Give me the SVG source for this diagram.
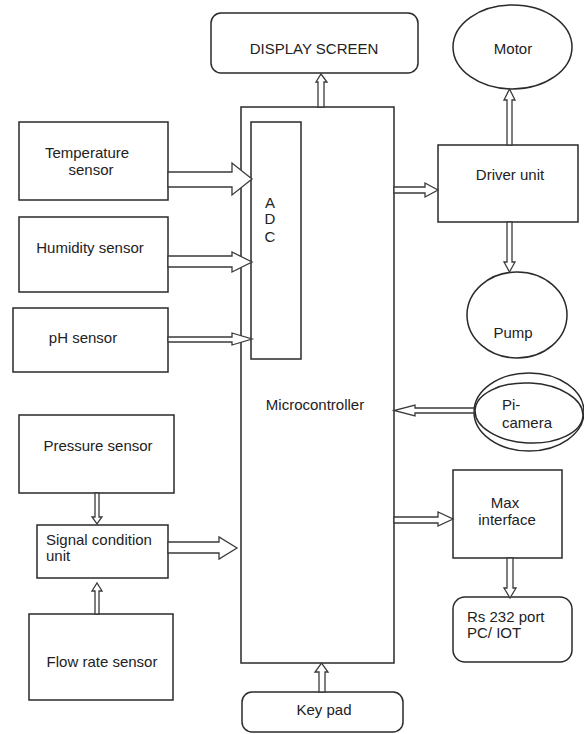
<svg xmlns="http://www.w3.org/2000/svg" width="584" height="734" viewBox="0 0 584 734">
<style>
.b{fill:#fff;stroke:#2a2a2a;stroke-width:1.5}
.a{fill:#fff;stroke:#3a3a3a;stroke-width:1.3;stroke-linejoin:miter}
text{font-family:"Liberation Sans",Arial,sans-serif;font-size:15px;fill:#222}
.c{text-anchor:middle}
</style>
<rect width="584" height="734" fill="#fff"/>
<g id="display"><rect class="b" x="211" y="13" width="207" height="60" rx="10"/><text class="c" x="314" y="54">DISPLAY SCREEN</text></g>
<g id="microcontroller"><rect class="b" x="241" y="107" width="153" height="556"/><text class="c" x="315" y="410">Microcontroller</text></g>
<g id="adc"><rect class="b" x="251" y="122" width="50" height="237"/><text class="c" x="270" y="208">A</text><text class="c" x="270" y="224">D</text><text class="c" x="270" y="242">C</text></g>
<g id="temperature"><rect class="b" x="19" y="122" width="149" height="78"/><text class="c" x="87" y="158">Temperature</text><text class="c" x="91" y="175">sensor</text></g>
<g id="humidity"><rect class="b" x="19" y="217" width="149" height="75"/><text class="c" x="90" y="253">Humidity sensor</text></g>
<g id="ph"><rect class="b" x="13" y="308" width="155" height="64"/><text class="c" x="83" y="343">pH sensor</text></g>
<g id="pressure"><rect class="b" x="19" y="415" width="155" height="78"/><text class="c" x="98" y="451">Pressure sensor</text></g>
<g id="signal"><rect class="b" x="37" y="525" width="131" height="53"/><text x="46" y="545">Signal condition</text><text x="46" y="561">unit</text></g>
<g id="flow"><rect class="b" x="29" y="614" width="144" height="86"/><text class="c" x="102" y="667">Flow rate sensor</text></g>
<g id="keypad"><rect class="b" x="242" y="692" width="161" height="40" rx="10"/><text class="c" x="324" y="715">Key pad</text></g>
<g id="motor"><ellipse class="b" cx="512.5" cy="47" rx="59.5" ry="42"/><text class="c" x="513" y="54">Motor</text></g>
<g id="driver"><rect class="b" x="438" y="145" width="140" height="77"/><text class="c" x="510" y="180">Driver unit</text></g>
<g id="pump"><ellipse class="b" cx="517" cy="315" rx="50" ry="43"/><text class="c" x="513" y="338">Pump</text></g>
<g id="picamera"><ellipse class="b" cx="529" cy="412" rx="55" ry="39"/><ellipse fill="none" stroke="#2a2a2a" stroke-width="1.5" cx="529" cy="413" rx="54" ry="30" transform="rotate(3 529 413)"/><text x="502" y="410">Pi-</text><text x="502" y="428">camera</text></g>
<g id="max"><rect class="b" x="453" y="470" width="109" height="88"/><text class="c" x="505" y="508">Max</text><text class="c" x="507" y="525">interface</text></g>
<g id="rs232"><rect class="b" x="453" y="597" width="119" height="65" rx="12"/><text x="467" y="622">Rs 232 port</text><text x="467" y="638">PC/ IOT</text></g>
<g id="connectors">
<polygon class="a" points="168,172 232,172 232,163 252,179 232,195 232,187 168,187"/>
<polygon class="a" points="168,256 232,256 232,252 252,262 232,272 232,267 168,267"/>
<polygon class="a" points="168,337 232,337 232,333 252,339 232,345 232,342 168,342"/>
<polygon class="a" points="168,542 219,542 219,537 237,548 219,559 219,553 168,553"/>
<polygon class="a" points="318,107 318,82 316,82 321,74 327,82 324,82 324,107"/>
<polygon class="a" points="394,187 425,187 425,183 438,190 425,197 425,193 394,193"/>
<polygon class="a" points="507,145 507,100 504,100 509.5,89 515,100 512,100 512,145"/>
<polygon class="a" points="507,222 507,262 504,262 509.5,272 515,262 512,262 512,222"/>
<polygon class="a" points="474,408 415,408 415,405 394,410.5 415,416 415,413 474,413"/>
<polygon class="a" points="394,517 438,517 438,512 453,519 438,526 438,523 394,523"/>
<polygon class="a" points="507,558 507,588 504,588 510,598 516,588 513,588 513,558"/>
<polygon class="a" points="319,692 319,672 315,672 321.5,663 328,672 325,672 325,692"/>
<polygon class="a" points="95,493 95,517 92,517 97,524 102,517 99,517 99,493"/>
<polygon class="a" points="95,614 95,591 92,591 97,583 102,591 99,591 99,614"/>
</g>
</svg>
